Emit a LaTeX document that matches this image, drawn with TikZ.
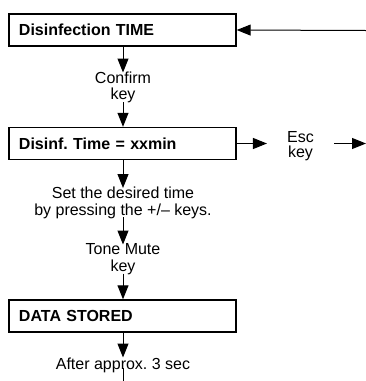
\documentclass[tikz,border=0pt]{standalone}
\usepackage{fontspec}
\setmainfont{Liberation Sans}
\usetikzlibrary{arrows.meta}
\begin{document}
\begin{tikzpicture}[x=1pt,y=-1pt,
  stepbox/.style={draw,line width=1.4pt,minimum width=227pt,minimum height=32pt,
    text width=207pt,inner xsep=10pt,inner ysep=0pt,align=left,
    font=\bfseries\fontsize{16}{17}\selectfont},
  lbl/.style={inner sep=0pt,align=center,font=\fontsize{16}{16.5}\selectfont},
  arr/.style={line width=1pt,-{Triangle[length=14pt,width=11pt]}}]
\useasboundingbox (0,0) rectangle (366,381);
\node[stepbox] (b1) at (122.5,30) {Disinfection TIME};
\node[stepbox] (b2) at (122.5,143.5) {Disinf.\ Time = xxmin};
\node[stepbox] (b3) at (122.5,316) {DATA STORED};
\node[lbl,anchor=north] (l1) at (123,71.5) {Confirm\\key};
\node[lbl,anchor=north] (l2) at (123,187) {Set the desired time\\by pressing the +/– keys.};
\node[lbl,anchor=north] (l3) at (123,243.5) {Tone Mute\\key};
\node[lbl,anchor=north] (l4) at (123,357.5) {After approx.\ 3 sec};
\node[lbl,anchor=center,font=\fontsize{16}{15}\selectfont] (esc) at (300.5,146) {Esc\\key};
\coordinate (rin) at (366,30.5);
\coordinate (rout) at (366,143.5);
\coordinate (bot) at (123,385);
\draw[arr] (rin) -- (b1.east);
\draw[arr] (b1.south -| l1.north) -- ([yshift=-1pt]l1.north);
\draw[arr] ([yshift=1pt]l1.south) -- (b2.north -| l1.south);
\draw[arr] (b2.south -| l2.north) -- ([yshift=-1pt]l2.north);
\draw[arr] ([yshift=1.5pt]l2.south) -- ([yshift=-1pt]l3.north);
\draw[arr] ([yshift=1pt]l3.south) -- (b3.north -| l3.south);
\draw[arr] (b3.south -| l4.north) -- (l4.north);
\draw[line width=1pt] ([yshift=5pt]l4.south) -- (bot);
\draw[arr,shorten >=20pt] (b2.east) -- (esc.west |- b2.east);
\draw[arr,shorten <=20pt] (esc.east |- rout) -- (rout);
\end{tikzpicture}
\end{document}
